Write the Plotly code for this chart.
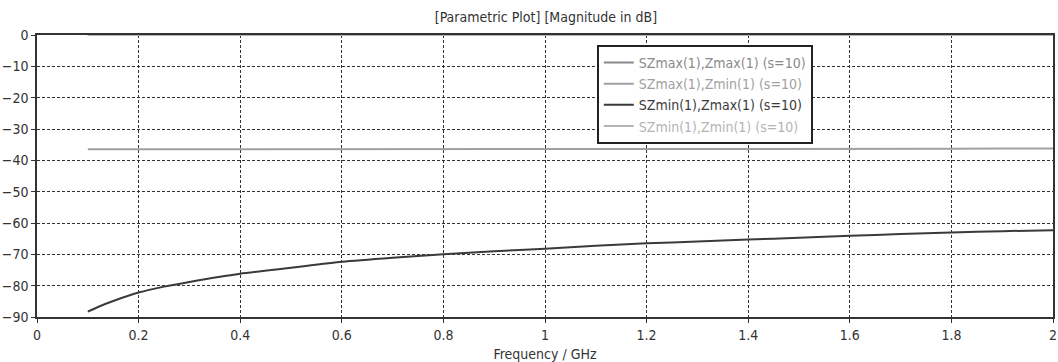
import plotly.graph_objects as go

freq = [0.1, 0.12, 0.15, 0.2, 0.25, 0.3, 0.4, 0.5, 0.6, 0.7, 0.8, 0.9, 1.0, 1.1, 1.2, 1.3, 1.4, 1.5, 1.6, 1.7, 1.8, 1.9, 2.0]
s_maxmax = [0.0] * len(freq)
s_maxmin = [-36.5, -36.5, -36.5, -36.5, -36.5, -36.5, -36.3, -36.3, -36.3, -36.3, -36.3, -36.3, -36.3, -36.3, -36.3,
            -36.3, -36.3, -36.3, -36.3, -36.3, -36.3, -36.2, -36.2]
s_minmax = [-88.3, -86.8, -84.9, -82.2, -80.3, -78.8, -76.2, -74.3, -72.4, -71.1, -70.0, -69.0, -68.2, -67.3, -66.5,
            -65.9, -65.3, -64.7, -64.1, -63.5, -63.0, -62.6, -62.3]
s_minmin = [0.0] * len(freq)

names = ["SZmax(1),Zmax(1) (s=10)", "SZmax(1),Zmin(1) (s=10)",
         "SZmin(1),Zmax(1) (s=10)", "SZmin(1),Zmin(1) (s=10)"]
colors = ["#8a8a8a", "#a0a0a0", "#3a3a3a", "#b4b4b4"]
shapes = ["linear", "linear", "spline", "linear"]
series = [s_maxmax, s_maxmin, s_minmax, s_minmin]

x_ticks = [0, 0.2, 0.4, 0.6, 0.8, 1.0, 1.2, 1.4, 1.6, 1.8, 2.0]
x_ticklabels = ["0", "0.2", "0.4", "0.6", "0.8", "1", "1.2", "1.4", "1.6", "1.8", "2"]
y_ticks = [0, -10, -20, -30, -40, -50, -60, -70, -80, -90]

FONT = "Tahoma, 'DejaVu Sans Condensed', 'DejaVu Sans', sans-serif"

fig = go.Figure()
for i in range(4):
    fig.add_trace(go.Scatter(
        x=freq, y=series[i], mode="lines",
        line=dict(color=colors[i], width=2, shape=shapes[i], smoothing=0.6),
        name=f"<span style='color:{colors[i]}'>{names[i]}</span>",
        legendrank=i + 1,
    ))

fig.update_layout(
    width=1058, height=362,
    margin=dict(l=37, r=5, t=35, b=45, autoexpand=False),
    paper_bgcolor="white", plot_bgcolor="white",
    font=dict(family=FONT, size=14, color="#333333"),
    title=dict(text="[Parametric Plot] [Magnitude in dB]", x=0.516, xanchor="center",
               y=0.952, yanchor="middle", font=dict(size=14, color="#333333")),
    showlegend=True,
    legend=dict(x=0.551, y=0.965, xanchor="left", yanchor="top",
                bgcolor="white", bordercolor="#222222", borderwidth=2,
                font=dict(size=14), tracegroupgap=0),
)
fig.update_xaxes(
    range=[0, 2], tickvals=x_ticks, ticktext=x_ticklabels, automargin=False,
    showline=True, linecolor="#333333", linewidth=1.5, mirror=True,
    showgrid=True, gridcolor="#333333", gridwidth=1, griddash="3px,2px",
    ticks="outside", ticklen=4, tickcolor="#333333",
    zeroline=False,
    title=dict(text="Frequency / GHz", standoff=8, font=dict(size=14)),
)
fig.update_yaxes(
    range=[-90, 0], tickvals=y_ticks, automargin=False,
    showline=True, linecolor="#333333", linewidth=1.5, mirror=True,
    showgrid=True, gridcolor="#333333", gridwidth=1, griddash="3px,2px",
    ticks="outside", ticklen=4, tickcolor="#333333",
    zeroline=False,
)

fig.write_html("out.html")
